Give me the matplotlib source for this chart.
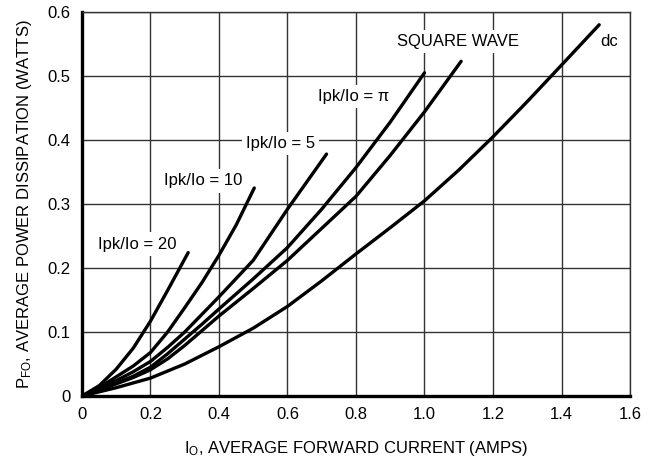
import matplotlib
matplotlib.use("Agg")
import matplotlib.pyplot as plt

plt.rcParams['font.family'] = ['Liberation Sans Narrow', 'Liberation Sans', 'DejaVu Sans']
plt.rcParams['mathtext.default'] = 'regular'

# curve data (I_O in amps, P_FO in watts)
x_20 = [0, 0.05, 0.1, 0.15, 0.2, 0.25, 0.31]
y_20 = [0, 0.016, 0.042, 0.075, 0.117, 0.165, 0.224]

x_10 = [0, 0.05, 0.1, 0.15, 0.2, 0.25, 0.3, 0.35, 0.4, 0.45, 0.503]
y_10 = [0, 0.013, 0.03, 0.047, 0.068, 0.1, 0.138, 0.177, 0.22, 0.267, 0.325]

x_5 = [0, 0.05, 0.1, 0.15, 0.2, 0.25, 0.3, 0.4, 0.5, 0.6, 0.714]
y_5 = [0, 0.011, 0.024, 0.038, 0.054, 0.076, 0.1, 0.155, 0.212, 0.292, 0.378]

x_pi = [0, 0.05, 0.1, 0.15, 0.2, 0.25, 0.3, 0.35, 0.4, 0.5, 0.6, 0.7, 0.8, 0.9, 1.0]
y_pi = [0, 0.01, 0.02, 0.031, 0.045, 0.066, 0.089, 0.112, 0.136, 0.183, 0.232, 0.292, 0.357, 0.428, 0.505]

x_sq = [0, 0.05, 0.1, 0.15, 0.2, 0.25, 0.3, 0.35, 0.4, 0.5, 0.6, 0.7, 0.8, 0.9, 1.0, 1.107]
y_sq = [0, 0.009, 0.019, 0.029, 0.041, 0.058, 0.079, 0.102, 0.125, 0.168, 0.212, 0.262, 0.312, 0.376, 0.444, 0.523]

x_dc = [0, 0.1, 0.2, 0.3, 0.4, 0.5, 0.6, 0.7, 0.8, 0.9, 1.0, 1.1, 1.2, 1.3, 1.4, 1.51]
y_dc = [0, 0.013, 0.028, 0.05, 0.077, 0.106, 0.14, 0.18, 0.222, 0.263, 0.305, 0.353, 0.405, 0.46, 0.517, 0.58]

xticks = [0, 0.2, 0.4, 0.6, 0.8, 1.0, 1.2, 1.4, 1.6]
xtick_labels = ['0', '0.2', '0.4', '0.6', '0.8', '1.0', '1.2', '1.4', '1.6']
yticks = [0, 0.1, 0.2, 0.3, 0.4, 0.5, 0.6]
ytick_labels = ['0', '0.1', '0.2', '0.3', '0.4', '0.5', '0.6']

fig = plt.figure(figsize=(6.59, 4.72), dpi=100)
ax = fig.add_axes([0.1244, 0.161, 0.8316, 0.8136])

curves = [(x_20, y_20), (x_10, y_10), (x_5, y_5), (x_pi, y_pi), (x_sq, y_sq), (x_dc, y_dc)]
for xs, ys in curves:
    ax.plot(xs, ys, color='black', lw=2.4, solid_joinstyle='round',
            solid_capstyle='round', zorder=3)

ax.set_xlim(0, 1.6)
ax.set_ylim(0, 0.6)
ax.set_xticks(xticks)
ax.set_xticklabels(xtick_labels)
ax.set_yticks(yticks)
ax.set_yticklabels(ytick_labels)
ax.tick_params(length=0, labelsize=12, pad=8)
ax.grid(True, color='#333333', lw=1.0, zorder=1)
ax.set_axisbelow(True)

for s in ['left', 'bottom']:
    ax.spines[s].set_linewidth(2.4)
for s in ['top', 'right']:
    ax.spines[s].set_linewidth(1.0)
    ax.spines[s].set_color('#333333')

# labels sit on white boxes that break the grid lines
box = dict(facecolor='white', edgecolor='none', pad=3)
ax.text(0.16, 0.2375, 'Ipk/Io = 20', ha='center', va='center', fontsize=12, bbox=box, zorder=2)
ax.text(0.353, 0.336, 'Ipk/Io = 10', ha='center', va='center', fontsize=12, bbox=box, zorder=2)
ax.text(0.58, 0.395, 'Ipk/Io = 5', ha='center', va='center', fontsize=12, bbox=box, zorder=2)
ax.text(0.793, 0.468, 'Ipk/Io = π', ha='center', va='center', fontsize=12, bbox=box, zorder=2)
ax.text(1.098, 0.554, 'SQUARE WAVE', ha='center', va='center', fontsize=12, bbox=box, zorder=2)
ax.text(1.539, 0.554, 'dc', ha='center', va='center', fontsize=12, zorder=2)

ax.set_xlabel('I$_{O}$, AVERAGE FORWARD CURRENT (AMPS)', fontsize=12, labelpad=12)
ax.set_ylabel('P$_{FO}$, AVERAGE POWER DISSIPATION (WATTS)', fontsize=12, labelpad=10)

fig.savefig('out.png', dpi=100)
